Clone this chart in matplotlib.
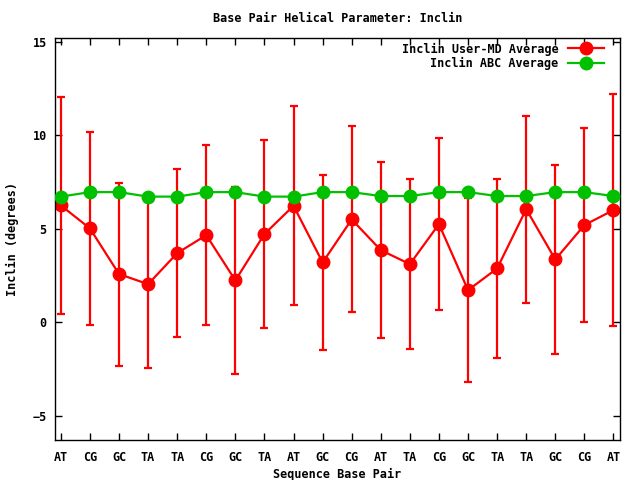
import matplotlib
matplotlib.use("Agg")
import matplotlib.pyplot as plt
import numpy as np

categories = ["AT", "CG", "GC", "TA", "TA", "CG", "GC", "TA", "AT", "GC",
              "CG", "AT", "TA", "CG", "GC", "TA", "TA", "GC", "CG", "AT"]
user_md_avg = [6.24, 5.01, 2.57, 2.03, 3.69, 4.65, 2.23, 4.71, 6.22, 3.19,
               5.49, 3.85, 3.10, 5.24, 1.71, 2.87, 6.04, 3.35, 5.19, 5.99]
user_md_std = [5.81, 5.18, 4.89, 4.49, 4.49, 4.80, 5.00, 5.00, 5.31, 4.67,
               4.97, 4.71, 4.56, 4.60, 4.90, 4.78, 5.00, 5.07, 5.19, 6.20]
abc_avg = [6.71, 6.95, 6.95, 6.71, 6.71, 6.95, 6.95, 6.71, 6.71, 6.95,
           6.95, 6.74, 6.74, 6.95, 6.95, 6.74, 6.74, 6.95, 6.95, 6.74]
yticks = [-5, 0, 5, 10, 15]

plt.rcParams['font.family'] = ['DejaVu Sans Mono']
fig = plt.figure(figsize=(6.4, 4.8), dpi=100)
ax = fig.add_axes([0.086, 0.0833, 0.883, 0.838])

x = np.arange(len(categories))
red = '#ff0000'
green = '#00c000'
h1 = ax.errorbar(x, user_md_avg, yerr=user_md_std, color=red, lw=1.6, elinewidth=1.6,
                 capsize=3, capthick=1.6, marker='o', markersize=9,
                 label='Inclin User-MD Average', zorder=2)
h2, = ax.plot(x, abc_avg, color=green, lw=1.6, marker='o', markersize=9,
              label='Inclin ABC Average', zorder=3)

ax.set_xlim(-0.2, len(categories) - 0.77)
ax.set_ylim(-6.3, 15.2)
ax.set_xticks(x)
ax.set_xticklabels(categories)
ax.set_yticks(yticks)
ax.tick_params(direction='in', top=True, right=True, length=5, width=1,
               labelsize=8.5)
ax.tick_params(axis='x', pad=8)
ax.tick_params(axis='y', pad=6)
for lab in ax.get_xticklabels() + ax.get_yticklabels():
    lab.set_fontweight('bold')
for s in ax.spines.values():
    s.set_linewidth(1)

ax.set_title('Base Pair Helical Parameter: Inclin', fontsize=8.5,
             fontweight='bold', pad=11)
ax.set_xlabel('Sequence Base Pair', fontsize=8.5, fontweight='bold', labelpad=3)
ax.set_ylabel('Inclin (degrees)', fontsize=8.5, fontweight='bold', labelpad=10)

leg = ax.legend(handles=[h1[0], h2], labels=['Inclin User-MD Average', 'Inclin ABC Average'],
                loc='upper right', bbox_to_anchor=(0.979, 1.0), frameon=False,
                markerfirst=False, prop={'size': 8.5, 'weight': 'bold'},
                handlelength=3, borderaxespad=0.0, labelspacing=0.1,
                handletextpad=0.8)

fig.savefig('out.png', dpi=100)
